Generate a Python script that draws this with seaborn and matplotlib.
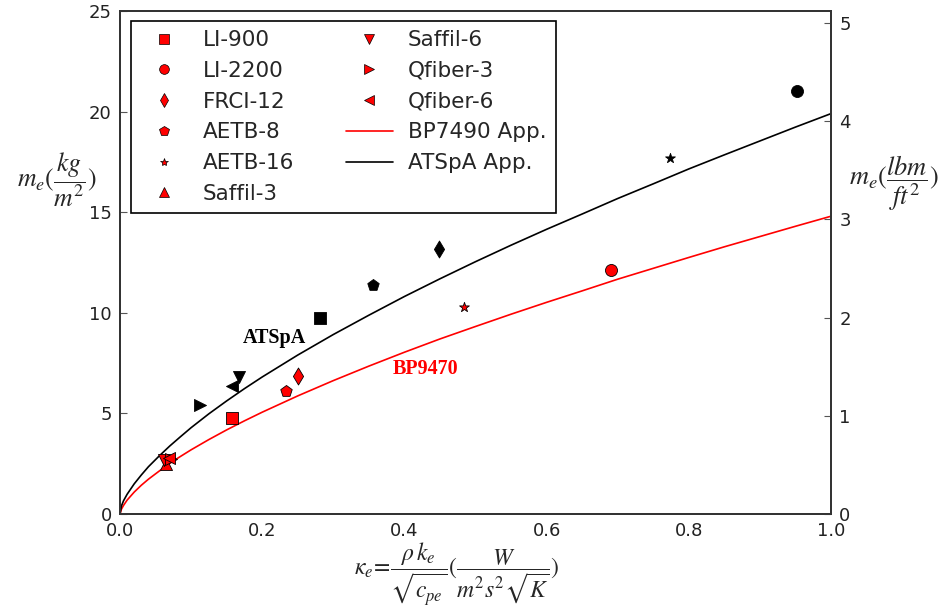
import matplotlib
matplotlib.use("Agg")
import matplotlib.pyplot as plt
import seaborn as sns
import pandas as pd
from matplotlib.lines import Line2D

sns.set_style("white")
plt.rcParams['font.family'] = ['DejaVu Sans']
plt.rcParams['mathtext.fontset'] = 'stix'

# ---- data ----
materials = ['LI-900', 'LI-2200', 'FRCI-12', 'AETB-8', 'AETB-16',
             'Saffil-3', 'Saffil-6', 'Qfiber-3', 'Qfiber-6']
markers = ['s', 'o', 'd', 'p', '*', '^', 'v', '>', '<']

# BP7490 measured (red)
bp_x = [0.158, 0.690, 0.250, 0.233, 0.484, 0.065, 0.062, 0.072, 0.069]
bp_y = [4.75, 12.15, 6.85, 6.13, 10.30, 2.50, 2.70, 2.75, 2.78]

# ATSpA measured (black)
at_materials = ['LI-900', 'LI-2200', 'FRCI-12', 'AETB-8', 'AETB-16',
                'Saffil-6', 'Qfiber-3', 'Qfiber-6']
at_x = [0.281, 0.952, 0.448, 0.356, 0.774, 0.167, 0.112, 0.157]
at_y = [9.76, 21.00, 13.15, 11.40, 17.70, 6.82, 5.43, 6.37]

# approximation curves
curve_x = [0.0, 0.002, 0.005, 0.01, 0.02, 0.03, 0.04, 0.055, 0.07, 0.085, 0.1,
           0.125, 0.15, 0.175, 0.2, 0.25, 0.3, 0.35, 0.4, 0.45, 0.5, 0.55,
           0.6, 0.65, 0.7, 0.75, 0.8, 0.85, 0.9, 0.95, 1.0]
bp_curve = [0.0, 0.24, 0.43, 0.69, 1.09, 1.43, 1.73, 2.13, 2.52, 2.86, 3.19,
            3.70, 4.18, 4.63, 5.06, 5.87, 6.63, 7.35, 8.04, 8.70, 9.32, 9.93,
            10.52, 11.09, 11.67, 12.21, 12.75, 13.28, 13.79, 14.30, 14.80]
at_curve = [0.0, 0.40, 0.66, 0.98, 1.50, 1.94, 2.35, 2.88, 3.38, 3.84, 4.29,
            4.98, 5.62, 6.23, 6.81, 7.90, 8.92, 9.88, 10.81, 11.69, 12.54,
            13.36, 14.15, 14.91, 15.68, 16.41, 17.15, 17.85, 18.54, 19.23, 19.90]

xticks = [0.0, 0.2, 0.4, 0.6, 0.8, 1.0]
yticks = [0, 5, 10, 15, 20, 25]
rticks = [0, 1, 2, 3, 4, 5]
kg_to_lbm = 0.204816

fig = plt.figure(figsize=(9.51, 6.14), dpi=100)
ax = fig.add_axes([120/951, 100/614, 711/951, 503/614])

mk = dict(zip(materials, markers))

# curves
sns.lineplot(x=curve_x, y=bp_curve, ax=ax, color='red', lw=1.2, legend=False)
sns.lineplot(x=curve_x, y=at_curve, ax=ax, color='black', lw=1.2, legend=False)

# points
for m, x, y in zip(materials, bp_x, bp_y):
    s = 55 if mk[m] == '*' else 75
    sns.scatterplot(x=[x], y=[y], ax=ax, marker=mk[m], color='red',
                    edgecolor='black', linewidth=0.6, s=s, legend=False, zorder=3)
for m, x, y in zip(at_materials, at_x, at_y):
    s = 55 if mk[m] == '*' else 75
    sns.scatterplot(x=[x], y=[y], ax=ax, marker=mk[m], color='black',
                    edgecolor='black', linewidth=0.6, s=s, legend=False, zorder=3)

ax.set_xlim(0, 1.0)
ax.set_ylim(0, 25)
ax.set_xticks(xticks)
ax.set_yticks(yticks)
ax.set_xticklabels([f"{t:.1f}" for t in xticks])
ax.tick_params(axis='both', direction='in', length=5, labelsize=13, pad=6,
               color='#555555', labelcolor='#222222')
for sp in ax.spines.values():
    sp.set_color('#333333')
    sp.set_linewidth(1.3)

ax2 = ax.twinx()
ax2.set_ylim(0, 25 * kg_to_lbm)
ax2.set_yticks(rticks)
ax2.tick_params(axis='y', direction='in', length=5, labelsize=13, pad=6,
                color='#555555', labelcolor='#222222')
for sp in ax2.spines.values():
    sp.set_color('#333333')
    sp.set_linewidth(1.3)

# axis labels (mathtext, serif)
fig.text(57/951, 1 - 180/614, r'$m_e(\dfrac{kg}{m^2})$', fontsize=18.5,
         ha='center', va='center')
fig.text(894/951, 1 - 183/614, r'$m_e(\dfrac{lbm}{ft^2})$', fontsize=19,
         ha='center', va='center')
fig.text(457/951, 1 - 574/614,
         r'$\kappa_e\!=\!\dfrac{\rho\, k_e}{\sqrt{c_{pe}}}(\dfrac{W}{m^2 s^2 \sqrt{K}})$',
         fontsize=17, ha='center', va='center')

# annotations
ax.text(0.2175, 8.77, 'ATSpA', family='Liberation Serif', fontweight='bold',
        fontsize=14.5, color='black', ha='center', va='center')
ax.text(0.43, 7.22, 'BP9470', family='Liberation Serif', fontweight='bold',
        fontsize=14.5, color='red', ha='center', va='center')

# legend
handles = []
for m in materials:
    ms = 6 if mk[m] == '*' else 7
    handles.append(Line2D([], [], linestyle='none', marker=mk[m], color='red',
                          markeredgecolor='black', markeredgewidth=0.5,
                          markersize=ms, label=m))
handles.append(Line2D([], [], color='red', lw=1.2, label='BP7490 App.'))
handles.append(Line2D([], [], color='black', lw=1.2, label='ATSpA App.'))
leg = ax.legend(handles=handles, ncol=2, loc='upper left',
                bbox_to_anchor=(11/711, 1 - 10/503), borderaxespad=0,
                fontsize=15.5, frameon=True,
                fancybox=False, edgecolor='black', framealpha=1,
                handlelength=2.2, labelspacing=0.5, columnspacing=2.4,
                borderpad=0.42, handletextpad=0.7)
leg.get_frame().set_linewidth(1.2)

fig.savefig('out.png', dpi=100)
